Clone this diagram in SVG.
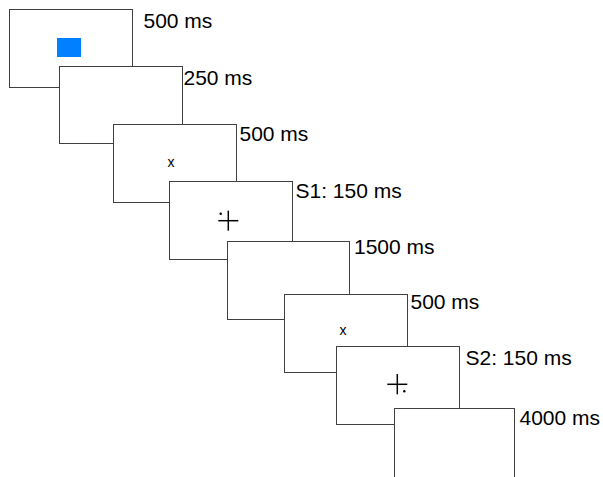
<svg xmlns="http://www.w3.org/2000/svg" width="603" height="477" viewBox="0 0 603 477">
<style>
.box{fill:#fff;stroke:#404040;stroke-width:1}
.lbl{font-family:"Liberation Sans",Arial,sans-serif;font-size:21px;fill:#000}
.sx{font-family:"Liberation Sans",Arial,sans-serif;font-size:14px;fill:#000;text-anchor:middle}
.cr{stroke:#000;stroke-width:1.5;fill:none}
</style>
<rect width="603" height="477" fill="#fff"/>
<g id="screen1">
<rect class="box" x="9.5" y="9.5" width="123" height="78"/>
<rect x="57" y="38" width="24" height="19" fill="#0080ff"/>
<text class="lbl" x="143.5" y="28">500 ms</text>
</g>
<g id="screen2">
<rect class="box" x="59.5" y="66.5" width="123" height="77"/>
<text class="lbl" x="183.5" y="85">250 ms</text>
</g>
<g id="screen3">
<rect class="box" x="113.5" y="124.5" width="123" height="78"/>
<text class="sx" x="171" y="166.5">x</text>
<text class="lbl" x="239.5" y="140.5">500 ms</text>
</g>
<g id="screen4">
<rect class="box" x="169.5" y="181.5" width="123" height="78"/>
<line class="cr" x1="218.3" y1="220.7" x2="238.3" y2="220.7"/>
<line class="cr" x1="228.3" y1="210.7" x2="228.3" y2="230.7"/>
<circle cx="220.7" cy="213.7" r="1.2" fill="#000"/>
<text class="lbl" x="295.5" y="198">S1: 150 ms</text>
</g>
<g id="screen5">
<rect class="box" x="227.5" y="241.5" width="122" height="78"/>
<text class="lbl" x="354" y="254">1500 ms</text>
</g>
<g id="screen6">
<rect class="box" x="284.5" y="294.5" width="123" height="78"/>
<text class="sx" x="343" y="334.5">x</text>
<text class="lbl" x="410.5" y="308.5">500 ms</text>
</g>
<g id="screen7">
<rect class="box" x="336.5" y="346.5" width="123" height="78"/>
<line class="cr" x1="387.3" y1="384.3" x2="407.3" y2="384.3"/>
<line class="cr" x1="397.3" y1="374" x2="397.3" y2="394.3"/>
<circle cx="404.3" cy="391.3" r="1.2" fill="#000"/>
<text class="lbl" x="465.5" y="365">S2: 150 ms</text>
</g>
<g id="screen8">
<rect class="box" x="394.5" y="408.5" width="120" height="90"/>
<text class="lbl" x="519.5" y="425">4000 ms</text>
</g>
</svg>
